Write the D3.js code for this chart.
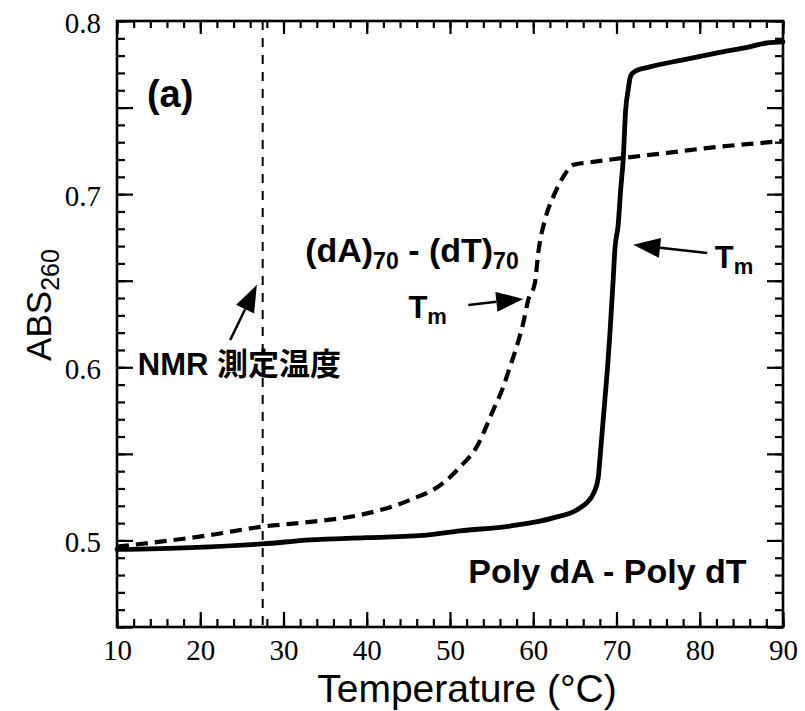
<!DOCTYPE html>
<html><head><meta charset="utf-8">
<script src="https://cdn.jsdelivr.net/npm/d3@7"></script>
<style>
html,body{margin:0;padding:0;background:#fff;}
svg{display:block;}
</style></head>
<body>
<svg id="chart" width="805" height="711"></svg>
<script>
// ---- data ----
const polyTemp = [10, 18.8, 27.5, 33.2, 40, 47.2, 51.2, 57.2, 62.4, 65.6, 67.2, 67.8, 68.0, 68.4, 68.9, 69.2, 69.6, 69.8, 70.2, 70.5, 70.8, 71.1, 71.4, 71.7, 72.3, 74.0, 78.0, 82.1, 86.0, 88.1, 90];
const polyAbs  = [0.4948, 0.4959, 0.4980, 0.5003, 0.5016, 0.5031, 0.5055, 0.5083, 0.5130, 0.5187, 0.5268, 0.5361, 0.5465, 0.5696, 0.5985, 0.6187, 0.6505, 0.6678, 0.6822, 0.7025, 0.7198, 0.7487, 0.7602, 0.7683, 0.7712, 0.7735, 0.7776, 0.7816, 0.7851, 0.7874, 0.7880];
const oligoTemp = [10, 15.2, 21.2, 27.2, 33.2, 39.2, 45.2, 49.2, 51.2, 53.2, 55.2, 56.4, 57.2, 58.0, 58.8, 59.4, 60.2, 60.6, 61.4, 62.4, 63.6, 64.8, 67.2, 70.8, 76.1, 82.1, 88.8, 90];
const oligoAbs  = [0.4964, 0.4993, 0.5031, 0.5078, 0.5107, 0.5147, 0.5234, 0.5332, 0.5424, 0.5540, 0.5754, 0.5887, 0.6002, 0.6118, 0.6256, 0.6389, 0.6487, 0.6661, 0.6851, 0.6984, 0.7100, 0.7169, 0.7186, 0.7209, 0.7238, 0.7273, 0.7302, 0.7308];
const nmrTemp = 27.5;
const xTickLabels = [10, 20, 30, 40, 50, 60, 70, 80, 90];
const yTickLabels = [0.5, 0.6, 0.7, 0.8];

// ---- layout ----
const svg = d3.select("#chart");
const L = 117, R = 783, T = 21, B = 627;
const x = d3.scaleLinear().domain([10, 90]).range([L, R]);
const y = d3.scaleLinear().domain([0.45, 0.8]).range([B, T]);

const xMinor = d3.range(10, 91, 2);
const xMajor = d3.range(10, 91, 10);
const yMinor = d3.range(45, 81).map(d => d / 100);
const yMajor = d3.range(45, 81, 5).map(d => d / 100);

function tickGroup(axisGen, tx, ty) {
  const g = svg.append("g").attr("transform", `translate(${tx},${ty})`).call(axisGen);
  g.select(".domain").remove();
  g.selectAll("line").attr("stroke", "#000").attr("stroke-width", 2.2);
  return g;
}
// bottom
tickGroup(d3.axisBottom(x).tickValues(xMinor).tickSize(-8).tickFormat(""), 0, B);
tickGroup(d3.axisBottom(x).tickValues(xMajor).tickSize(-15).tickFormat(""), 0, B);
// top
tickGroup(d3.axisTop(x).tickValues(xMinor).tickSize(-7).tickFormat(""), 0, T);
tickGroup(d3.axisTop(x).tickValues(xMajor).tickSize(-13).tickFormat(""), 0, T);
// left
tickGroup(d3.axisLeft(y).tickValues(yMinor).tickSize(-8).tickFormat(""), L, 0);
tickGroup(d3.axisLeft(y).tickValues(yMajor).tickSize(-16).tickFormat(""), L, 0);
// right
tickGroup(d3.axisRight(y).tickValues(yMinor).tickSize(-8).tickFormat(""), R, 0);
tickGroup(d3.axisRight(y).tickValues(yMajor).tickSize(-16).tickFormat(""), R, 0);

// tick labels
const xl = svg.append("g").attr("transform", `translate(0,${B})`)
  .call(d3.axisBottom(x).tickValues(xTickLabels).tickSize(0).tickPadding(12).tickFormat(d3.format("d")));
xl.select(".domain").remove();
xl.selectAll("text").attr("font-family", "'Liberation Serif', 'Times New Roman', serif")
  .attr("font-size", 29).attr("fill", "#000");
const yl = svg.append("g").attr("transform", `translate(${L},0)`)
  .call(d3.axisLeft(y).tickValues(yTickLabels).tickSize(0).tickPadding(16).tickFormat(d3.format(".1f")));
yl.select(".domain").remove();
yl.selectAll("text").attr("font-family", "'Liberation Serif', 'Times New Roman', serif")
  .attr("font-size", 29).attr("fill", "#000").attr("dy", "0.38em");

// frame
svg.append("rect").attr("x", L).attr("y", T).attr("width", R - L).attr("height", B - T)
  .attr("fill", "none").attr("stroke", "#000").attr("stroke-width", 2.6);

// NMR vertical dashed line
svg.append("line").attr("x1", x(nmrTemp)).attr("x2", x(nmrTemp)).attr("y1", y(0.8)).attr("y2", y(0.45))
  .attr("stroke", "#000").attr("stroke-width", 2).attr("stroke-dasharray", "9,8");

// curves
const line = d3.line().x(d => x(d[0])).y(d => y(d[1])).curve(d3.curveMonotoneX);
svg.append("path").datum(oligoTemp.map((t, i) => [t, oligoAbs[i]]))
  .attr("d", line).attr("fill", "none").attr("stroke", "#000").attr("stroke-width", 4.2)
  .attr("stroke-dasharray", "12,7");
svg.append("path").datum(polyTemp.map((t, i) => [t, polyAbs[i]]))
  .attr("d", line).attr("fill", "none").attr("stroke", "#000").attr("stroke-width", 4.8)
  .attr("stroke-linejoin", "round").attr("stroke-linecap", "round");

// annotations
const SANS = "'Liberation Sans', Arial, Helvetica, sans-serif";
function label(tx, ty, size) {
  return svg.append("text").attr("x", x(tx)).attr("y", y(ty))
    .attr("font-family", SANS).attr("font-weight", "bold").attr("font-size", size).attr("fill", "#000");
}
label(13.6, 0.7504, 38).text("(a)");
const dadt = label(32.6, 0.6609, 34);
dadt.append("tspan").text("(dA)");
dadt.append("tspan").attr("font-size", 23).attr("dy", 7).text("70");
dadt.append("tspan").attr("dy", -7).text(" - (dT)");
dadt.append("tspan").attr("font-size", 23).attr("dy", 7).text("70");
function tm(tx, ty) {
  const t = label(tx, ty, 31);
  t.append("tspan").text("T");
  t.append("tspan").attr("font-size", 22).attr("dy", 6).text("m");
}
tm(45.0, 0.6285);
tm(81.8, 0.6574);
const nmr = label(12.5, 0.5956, 31);
nmr.append("tspan").text("NMR ");
nmr.append("tspan").attr("font-family", "'Noto Sans CJK JP', 'Noto Sans CJK SC', sans-serif").text("測定温度");
label(52.2, 0.4754, 34).text("Poly dA - Poly dT");

// arrows
function arrow(x0, y0, x1, y1) {
  const X0 = x(x0), Y0 = y(y0), X1 = x(x1), Y1 = y(y1);
  const ang = Math.atan2(Y1 - Y0, X1 - X0);
  const len = 27, half = 10;
  const bx = X1 - len * Math.cos(ang), by = Y1 - len * Math.sin(ang);
  svg.append("line").attr("x1", X0).attr("y1", Y0).attr("x2", bx).attr("y2", by)
    .attr("stroke", "#000").attr("stroke-width", 2.5);
  const p = d3.path();
  p.moveTo(X1, Y1);
  p.lineTo(bx + half * Math.sin(ang), by - half * Math.cos(ang));
  p.lineTo(bx - half * Math.sin(ang), by + half * Math.cos(ang));
  p.closePath();
  svg.append("path").attr("d", p.toString()).attr("fill", "#000");
}
arrow(52.2, 0.636, 58.8, 0.6395);
arrow(80.9, 0.666, 72.0, 0.6707);
arrow(23.6, 0.6158, 26.8, 0.6476);

// axis titles
svg.append("text").attr("x", 467).attr("y", 702).attr("text-anchor", "middle")
  .attr("font-family", SANS).attr("font-size", 39).attr("fill", "#000").text("Temperature (°C)");
const yt = svg.append("text").attr("transform", "translate(51,305) rotate(-90)").attr("text-anchor", "middle")
  .attr("font-family", SANS).attr("font-size", 35).attr("fill", "#000");
yt.append("tspan").text("ABS");
yt.append("tspan").attr("font-size", 25).attr("dy", 8).text("260");
</script>
</body></html>
